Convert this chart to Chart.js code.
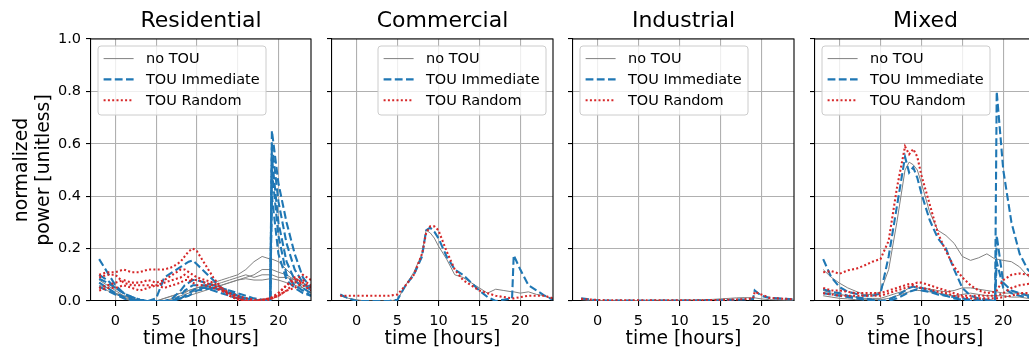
<!DOCTYPE html>
<html>
<head>
<meta charset="utf-8">
<script src="https://cdn.jsdelivr.net/npm/chart.js@4/dist/chart.umd.min.js"></script>
<style>
  html, body { margin: 0; padding: 0; background: #fff; overflow: hidden; }
  body { width: 1029px; height: 351px; position: relative; }
  .panel { position: absolute; top: 0; width: 241px; height: 351px; }
</style>
</head>
<body>
<div class="panel" style="left:0;width:321px"><canvas id="residential"></canvas></div>
<div class="panel" style="left:322px"><canvas id="commercial"></canvas></div>
<div class="panel" style="left:563px"><canvas id="industrial"></canvas></div>
<div class="panel" style="left:805px"><canvas id="mixed"></canvas></div>
<script>
// time axis shared by every curve (hours)
const hours = [-2, -1, 0, 1, 2, 3, 4, 5, 6, 7,
               8, 8.5, 9, 9.5, 10,
               11, 12, 13, 14, 15, 16, 17, 18, 19,
               19.2, 20, 21, 22, 23, 24];
const xTicks = [0, 5, 10, 15, 20];
const yTicks = [0, 0.2, 0.4, 0.6, 0.8, 1.0];
const seriesNames = ["no TOU", "TOU Immediate", "TOU Random"];

// Residential
const resNoTou = [
  [0.08, 0.06, 0.04, 0.02, 0.01, 0.005, 0, 0, 0.01, 0.02,  0.03, 0.035, 0.04, 0.045, 0.05,  0.06, 0.07, 0.08, 0.09, 0.10, 0.12, 0.15, 0.17, 0.16,  0.16, 0.15, 0.12, 0.09, 0.07, 0.05],
  [0.06, 0.05, 0.03, 0.02, 0.01, 0, 0, 0, 0, 0.01,  0.02, 0.025, 0.03, 0.035, 0.04,  0.05, 0.06, 0.06, 0.07, 0.08, 0.09, 0.10, 0.12, 0.12,  0.12, 0.11, 0.10, 0.08, 0.06, 0.04],
  [0.05, 0.04, 0.025, 0.015, 0.005, 0, 0, 0, 0.01, 0.02,  0.03, 0.03, 0.04, 0.045, 0.05,  0.055, 0.06, 0.07, 0.08, 0.09, 0.10, 0.09, 0.10, 0.10,  0.10, 0.09, 0.09, 0.08, 0.05, 0.03],
  [0.07, 0.05, 0.03, 0.01, 0, 0, 0, 0, 0, 0.005,  0.01, 0.015, 0.02, 0.025, 0.03,  0.04, 0.05, 0.06, 0.07, 0.08, 0.085, 0.08, 0.08, 0.085,  0.085, 0.08, 0.07, 0.06, 0.05, 0.03]
];
const resImmediate = [
  [0.16, 0.11, 0.06, 0.03, 0.01, 0, 0, 0, 0, 0,  0.01, 0.02, 0.03, 0.04, 0.05,  0.05, 0.04, 0.03, 0.02, 0.01, 0, 0, 0, 0,  0.65, 0.45, 0.30, 0.18, 0.09, 0.05],
  [0.10, 0.08, 0.05, 0.03, 0.015, 0.005, 0, 0.01, 0.09, 0.11,  0.13, 0.14, 0.15, 0.155, 0.14,  0.11, 0.08, 0.05, 0.03, 0.015, 0.005, 0, 0, 0,  0.60, 0.38, 0.22, 0.12, 0.07, 0.04],
  [0.085, 0.07, 0.05, 0.03, 0.015, 0.005, 0, 0, 0, 0.01,  0.04, 0.06, 0.07, 0.08, 0.08,  0.07, 0.06, 0.05, 0.04, 0.02, 0.01, 0, 0, 0,  0.55, 0.30, 0.15, 0.08, 0.05, 0.03],
  [0.07, 0.05, 0.03, 0.015, 0.005, 0, 0, 0, 0, 0,  0.02, 0.04, 0.05, 0.06, 0.06,  0.06, 0.05, 0.04, 0.03, 0.02, 0.01, 0.005, 0, 0,  0.50, 0.25, 0.10, 0.06, 0.04, 0.02],
  [0.055, 0.04, 0.025, 0.01, 0, 0, 0, 0, 0, 0,  0.01, 0.015, 0.02, 0.03, 0.04,  0.045, 0.05, 0.045, 0.04, 0.03, 0.02, 0.01, 0.005, 0.005,  0.40, 0.18, 0.08, 0.05, 0.03, 0.02]
];
const resRandom = [
  [0.10, 0.11, 0.11, 0.12, 0.11, 0.11, 0.12, 0.12, 0.12, 0.13,  0.15, 0.17, 0.19, 0.20, 0.19,  0.14, 0.09, 0.05, 0.02, 0.005, 0, 0, 0, 0.01,  0.015, 0.03, 0.06, 0.08, 0.10, 0.08],
  [0.05, 0.06, 0.07, 0.08, 0.07, 0.07, 0.08, 0.07, 0.08, 0.10,  0.12, 0.12, 0.11, 0.10, 0.09,  0.08, 0.07, 0.05, 0.03, 0.01, 0, 0, 0.005, 0.01,  0.01, 0.02, 0.04, 0.07, 0.08, 0.06],
  [0.09, 0.10, 0.10, 0.07, 0.06, 0.06, 0.06, 0.06, 0.07, 0.08,  0.09, 0.10, 0.09, 0.08, 0.08,  0.07, 0.06, 0.04, 0.02, 0.01, 0, 0, 0, 0.005,  0.01, 0.03, 0.06, 0.09, 0.06, 0.04],
  [0.04, 0.05, 0.05, 0.06, 0.05, 0.04, 0.05, 0.06, 0.05, 0.06,  0.07, 0.08, 0.08, 0.07, 0.06,  0.06, 0.05, 0.04, 0.03, 0.02, 0.01, 0.005, 0.005, 0.01,  0.01, 0.02, 0.04, 0.05, 0.07, 0.05]
];

// Commercial
const comNoTou = [
  [0.02, 0.01, 0.005, 0, 0, 0, 0, 0.005, 0.06, 0.11,  0.18, 0.27, 0.26, 0.24, 0.21,  0.16, 0.10, 0.09, 0.07, 0.05, 0.03, 0.045, 0.04, 0.035,  0.035, 0.03, 0.035, 0.025, 0.02, 0.005]
];
const comImmediate = [
  [0.025, 0.01, 0, 0, 0, 0, 0, 0.005, 0.06, 0.10,  0.17, 0.27, 0.28, 0.265, 0.24,  0.17, 0.12, 0.10, 0.07, 0.04, 0.015, 0, 0.005, 0.01,  0.175, 0.12, 0.06, 0.04, 0.02, 0.005]
];
const comRandom = [
  [0.02, 0.02, 0.02, 0.02, 0.02, 0.02, 0.02, 0.025, 0.06, 0.10,  0.18, 0.26, 0.285, 0.285, 0.27,  0.19, 0.12, 0.08, 0.06, 0.04, 0.03, 0.02, 0.015, 0.01,  0.01, 0.015, 0.02, 0.02, 0.02, 0.01]
];

// Industrial
const indNoTou = [
  [0.005, 0.003, 0.002, 0.002, 0.002, 0.002, 0.002, 0.002, 0.002, 0.003,  0.003, 0.003, 0.003, 0.003, 0.003,  0.004, 0.004, 0.005, 0.006, 0.008, 0.01, 0.012, 0.013, 0.012,  0.012, 0.008, 0.005, 0.004, 0.003, 0.003]
];
const indImmediate = [
  [0.01, 0.006, 0.003, 0.002, 0.002, 0.002, 0.002, 0.002, 0.002, 0.002,  0.002, 0.002, 0.002, 0.002, 0.002,  0.002, 0.002, 0.003, 0.003, 0.003, 0.004, 0.005, 0.006, 0.008,  0.04, 0.02, 0.012, 0.01, 0.008, 0.006]
];
const indRandom = [
  [0.008, 0.006, 0.004, 0.003, 0.003, 0.003, 0.003, 0.003, 0.003, 0.003,  0.003, 0.003, 0.003, 0.003, 0.003,  0.003, 0.003, 0.003, 0.004, 0.004, 0.005, 0.006, 0.007, 0.01,  0.035, 0.025, 0.012, 0.01, 0.008, 0.006]
];

// Mixed
const mixNoTou = [
  [0.12, 0.09, 0.068, 0.05, 0.037, 0.025, 0.025, 0.035, 0.12, 0.30,  0.50, 0.53, 0.52, 0.50, 0.45,  0.34, 0.27, 0.25, 0.22, 0.17, 0.155, 0.165, 0.18, 0.16,  0.16, 0.155, 0.15, 0.13, 0.095, 0.07],
  [0.04, 0.03, 0.025, 0.02, 0.015, 0.01, 0.01, 0.01, 0.02, 0.03,  0.04, 0.05, 0.055, 0.05, 0.05,  0.045, 0.04, 0.035, 0.04, 0.05, 0.05, 0.045, 0.04, 0.035,  0.035, 0.03, 0.03, 0.03, 0.025, 0.02],
  [0.02, 0.015, 0.01, 0.008, 0.005, 0.005, 0.005, 0.005, 0.01, 0.02,  0.03, 0.035, 0.04, 0.04, 0.04,  0.035, 0.03, 0.025, 0.02, 0.025, 0.03, 0.025, 0.02, 0.02,  0.02, 0.02, 0.015, 0.015, 0.01, 0.01]
];
const mixImmediate = [
  [0.16, 0.09, 0.053, 0.035, 0.028, 0.02, 0.02, 0.028, 0.17, 0.36,  0.55, 0.49, 0.51, 0.47, 0.41,  0.31, 0.24, 0.20, 0.12, 0.05, 0.02, 0.01, 0.005, 0,  0.80, 0.50, 0.30, 0.18, 0.12, 0.09],
  [0.045, 0.035, 0.03, 0.02, 0.015, 0.01, 0.005, 0, 0.005, 0.02,  0.04, 0.05, 0.055, 0.05, 0.05,  0.04, 0.03, 0.02, 0.015, 0.01, 0.005, 0.005, 0.005, 0,  0.25, 0.07, 0.04, 0.03, 0.02, 0.02],
  [0.03, 0.025, 0.02, 0.015, 0.01, 0.005, 0, 0, 0, 0.01,  0.025, 0.035, 0.04, 0.045, 0.04,  0.035, 0.025, 0.02, 0.01, 0.005, 0, 0, 0, 0,  0.15, 0.05, 0.03, 0.02, 0.015, 0.01]
];
const mixRandom = [
  [0.11, 0.114, 0.104, 0.117, 0.123, 0.135, 0.15, 0.16, 0.23, 0.43,  0.59, 0.56, 0.58, 0.55, 0.48,  0.37, 0.26, 0.19, 0.13, 0.09, 0.06, 0.04, 0.03, 0.035,  0.04, 0.08, 0.10, 0.105, 0.10, 0.08],
  [0.05, 0.04, 0.04, 0.035, 0.03, 0.03, 0.03, 0.03, 0.04, 0.05,  0.06, 0.065, 0.065, 0.07, 0.07,  0.06, 0.05, 0.04, 0.03, 0.02, 0.02, 0.02, 0.02, 0.02,  0.02, 0.03, 0.05, 0.06, 0.065, 0.07],
  [0.03, 0.025, 0.02, 0.02, 0.02, 0.02, 0.02, 0.02, 0.03, 0.04,  0.05, 0.055, 0.06, 0.055, 0.05,  0.045, 0.035, 0.03, 0.02, 0.015, 0.01, 0.01, 0.01, 0.01,  0.01, 0.015, 0.02, 0.03, 0.03, 0.025]
];

const FONT = "DejaVu Sans";
const lineStyles = [
  { color: "#808080", width: 1, dash: [] },
  { color: "#1f77b4", width: 2.1, dash: [7.8, 3.4] },
  { color: "#d62728", width: 2.1, dash: [2, 2.3] }
];

function roundRect(ctx, x, y, w, h, r) {
  ctx.beginPath();
  ctx.moveTo(x + r, y);
  ctx.lineTo(x + w - r, y);
  ctx.arcTo(x + w, y, x + w, y + r, r);
  ctx.lineTo(x + w, y + h - r);
  ctx.arcTo(x + w, y + h, x + w - r, y + h, r);
  ctx.lineTo(x + r, y + h);
  ctx.arcTo(x, y + h, x, y + h - r, r);
  ctx.lineTo(x, y + r);
  ctx.arcTo(x, y, x + r, y, r);
  ctx.closePath();
}

// title, top/right spines and matplotlib-like legend
const panelDeco = {
  id: "panelDeco",
  afterDatasetsDraw(chart, args, opts) {
    const ctx = chart.ctx;
    const a = chart.chartArea;
    ctx.save();
    ctx.strokeStyle = "#000";
    ctx.lineWidth = 1.1;
    ctx.beginPath();
    ctx.moveTo(a.left, a.top);
    ctx.lineTo(a.right, a.top);
    ctx.lineTo(a.right, a.bottom);
    ctx.stroke();

    ctx.fillStyle = "#000";
    ctx.font = "22px '" + FONT + "'";
    ctx.textAlign = "center";
    ctx.textBaseline = "middle";
    ctx.fillText(opts.title, (a.left + a.right) / 2, 21);

    const w = 168, h = 69, pad = 7;
    const x = opts.legendSide === "right" ? a.right - pad - w : a.left + pad;
    const y = a.top + pad;
    roundRect(ctx, x, y, w, h, 3);
    ctx.fillStyle = "rgba(255,255,255,0.8)";
    ctx.fill();
    ctx.strokeStyle = "#cccccc";
    ctx.lineWidth = 1;
    ctx.stroke();
    ctx.font = "14.5px '" + FONT + "'";
    ctx.textAlign = "left";
    seriesNames.forEach((name, i) => {
      const st = lineStyles[i];
      const cy = y + 12.6 + i * 20.8;
      ctx.beginPath();
      ctx.setLineDash(st.dash);
      ctx.strokeStyle = st.color;
      ctx.lineWidth = st.width;
      ctx.moveTo(x + 5.6, cy);
      ctx.lineTo(x + 35.6, cy);
      ctx.stroke();
      ctx.setLineDash([]);
      ctx.fillStyle = "#000";
      ctx.fillText(name, x + 48, cy + 1);
    });
    ctx.restore();
  }
};

function makePanel(id, title, groups, legendSide, firstPanel) {
  const datasets = [];
  // red drawn on top, then blue, then gray (Chart.js draws index 0 last)
  [2, 1, 0].forEach(si => {
    groups[si].forEach(vals => {
      datasets.push({
        label: seriesNames[si],
        data: vals.map((v, i) => ({ x: hours[i], y: v })),
        borderColor: lineStyles[si].color,
        borderWidth: lineStyles[si].width,
        borderDash: lineStyles[si].dash,
        pointRadius: 0,
        tension: 0,
        fill: false
      });
    });
  });

  new Chart(document.getElementById(id), {
    type: "line",
    data: { datasets },
    options: {
      responsive: true,
      maintainAspectRatio: false,
      animation: false,
      devicePixelRatio: 1,
      layout: { padding: { left: 0, right: 10, top: 39, bottom: 0 } },
      plugins: {
        legend: { display: false },
        tooltip: { enabled: false },
        panelDeco: { title, legendSide }
      },
      scales: {
        x: {
          type: "linear",
          min: -3,
          max: 24,
          afterBuildTicks: s => { s.ticks = xTicks.map(v => ({ value: v })); },
          afterFit: s => { s.height = 50; },
          grid: { color: "#b0b0b0", lineWidth: 1.1, tickColor: "#000", tickLength: 5 },
          border: { color: "#000", width: 1.1 },
          ticks: {
            color: "#000",
            font: { family: FONT, size: 14.5 },
            padding: 7,
            maxRotation: 0,
            autoSkip: false
          },
          title: {
            display: true,
            text: "time [hours]",
            color: "#000",
            font: { family: FONT, size: 18.8, lineHeight: 1.17 },
            padding: { top: 0, bottom: 1 }
          }
        },
        y: {
          min: 0,
          max: 1,
          afterBuildTicks: s => { s.ticks = yTicks.map(v => ({ value: v })); },
          afterFit: s => { s.width = firstPanel ? 91 : 10; },
          grid: { color: "#b0b0b0", lineWidth: 1.1, tickColor: "#000", tickLength: 5 },
          border: { color: "#000", width: 1.1 },
          ticks: {
            display: firstPanel,
            color: "#000",
            font: { family: FONT, size: 14.5 },
            padding: 5,
            callback: v => v.toFixed(1)
          },
          title: {
            display: firstPanel,
            text: ["normalized", "power [unitless]"],
            color: "#000",
            font: { family: FONT, size: 18.8, lineHeight: 1.17 },
            padding: { top: 11, bottom: 0 }
          }
        }
      }
    },
    plugins: [panelDeco]
  });
}

makePanel("residential", "Residential", [resNoTou, resImmediate, resRandom], "left", true);
makePanel("commercial", "Commercial", [comNoTou, comImmediate, comRandom], "right", false);
makePanel("industrial", "Industrial", [indNoTou, indImmediate, indRandom], "left", false);
makePanel("mixed", "Mixed", [mixNoTou, mixImmediate, mixRandom], "left", false);
</script>
</body>
</html>
